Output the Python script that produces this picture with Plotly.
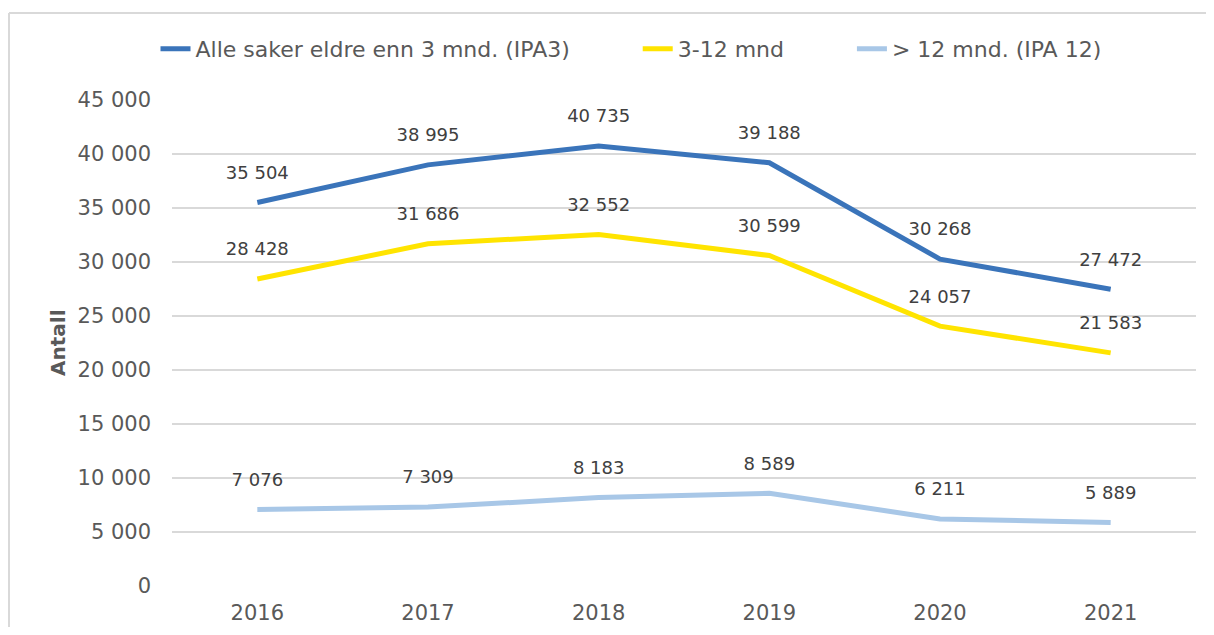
import plotly.graph_objects as go

years = ["2016", "2017", "2018", "2019", "2020", "2021"]
series_names = ["Alle saker eldre enn 3 mnd. (IPA3)", "3-12 mnd", "> 12 mnd. (IPA 12)"]
ipa3 = [35504, 38995, 40735, 39188, 30268, 27472]
m3_12 = [28428, 31686, 32552, 30599, 24057, 21583]
ipa12 = [7076, 7309, 8183, 8589, 6211, 5889]
colors = ["#3A74BA", "#FFE400", "#A8C7E7"]
y_ticks = [0, 5000, 10000, 15000, 20000, 25000, 30000, 35000, 40000, 45000]

FONT = "DejaVu Sans, Verdana, sans-serif"
PAD = "\u00a0" * 9

def fmt(v):
    return f"{v:,}".replace(",", " ")

fig = go.Figure()
for i, (name, vals, col) in enumerate(zip(series_names, [ipa3, m3_12, ipa12], colors)):
    label = name + (PAD if i < len(series_names) - 1 else "")
    fig.add_trace(go.Scatter(
        x=years, y=vals, name=label, mode="lines",
        line=dict(color=col, width=5), hoverinfo="x+y"))
for vals in [ipa3, m3_12, ipa12]:
    fig.add_trace(go.Scatter(
        x=years, y=vals, mode="markers+text", showlegend=False,
        text=[fmt(v) for v in vals], textposition="top center",
        marker=dict(size=29, opacity=0),
        textfont=dict(family=FONT, size=18, color="#404040"),
        hoverinfo="skip"))

W, H = 1198, 619
PW, PH = 1024, 486
# chart frame: top and left edges (right/bottom lie outside the picture)
fx0, fx1 = (1 - 164) / PW, (W - 164) / PW
fy0, fy1 = -0.2, (578 - 5) / PH
fig.add_shape(type="line", xref="paper", yref="paper", x0=fx0, x1=fx1, y0=fy1, y1=fy1,
              line=dict(color="#D9D9D9", width=2), layer="below")
fig.add_shape(type="line", xref="paper", yref="paper", x0=fx0, x1=fx0, y0=fy0, y1=fy1,
              line=dict(color="#D9D9D9", width=2), layer="below")

fig.add_annotation(text="<b>Antall</b>", xref="paper", yref="paper",
                   x=(50 - 164) / PW, y=0.5, xanchor="center", yanchor="middle",
                   textangle=-90, showarrow=False,
                   font=dict(family=FONT, size=20, color="#595959"))

fig.update_layout(
    width=W, height=H,
    margin=dict(l=164, r=W - 164 - PW, t=92, b=H - 92 - PH, autoexpand=False),
    paper_bgcolor="white", plot_bgcolor="white",
    separators=", ",
    font=dict(family=FONT, size=21, color="#595959"),
    showlegend=True,
    legend=dict(orientation="h", x=(623 - 164) / PW, xanchor="center",
                y=1 - 41 / H, yref="container", yanchor="middle",
                font=dict(family=FONT, size=22, color="#595959"),
                tracegroupgap=0, bgcolor="rgba(0,0,0,0)"),
    xaxis=dict(type="category", range=[-0.5, 5.5], showgrid=False, showline=False,
               zeroline=False, ticks="", ticklabelstandoff=12,
               tickfont=dict(family=FONT, size=21, color="#595959")),
    yaxis=dict(range=[0, 45000], tickvals=y_ticks, tickformat=",d",
               showgrid=True, gridcolor="#D9D9D9", gridwidth=2, zeroline=False,
               showline=False, ticks="", ticklabelstandoff=20,
               tickfont=dict(family=FONT, size=21, color="#595959")),
)
fig.write_html("out.html")
